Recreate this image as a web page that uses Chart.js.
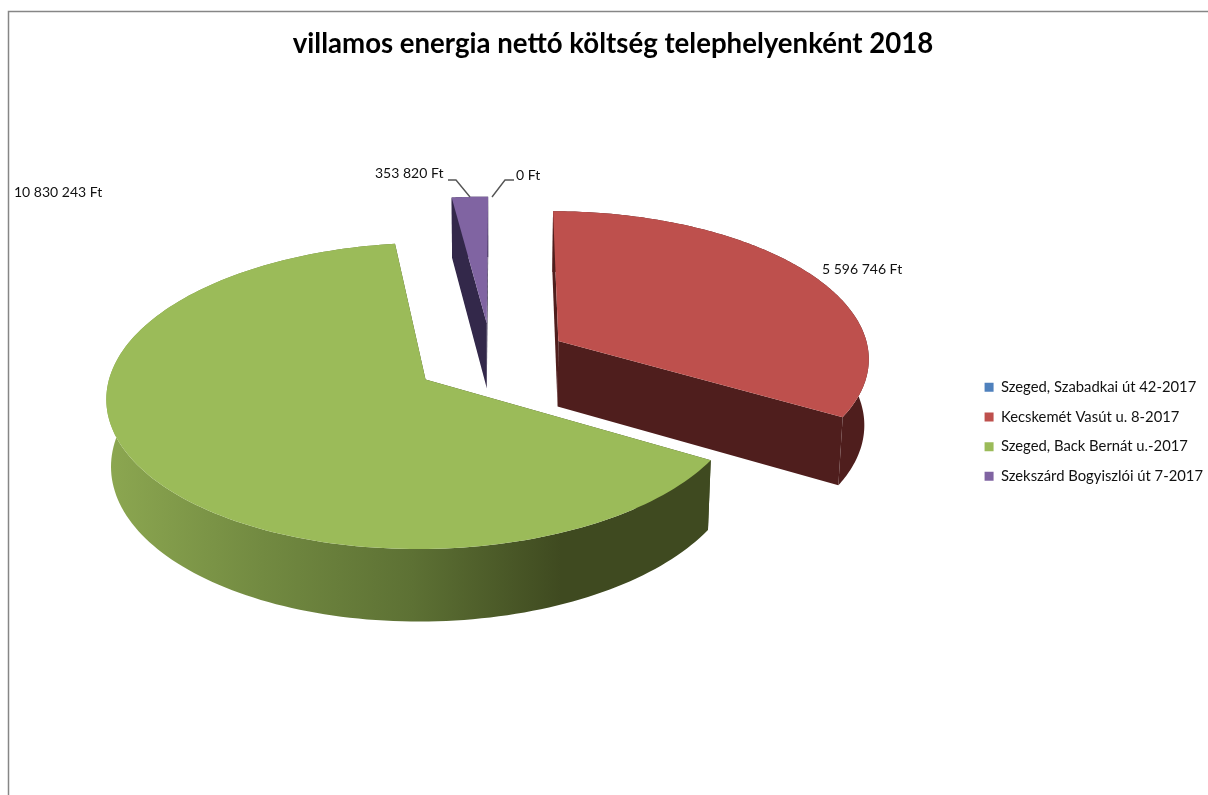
<!DOCTYPE html>
<html lang="hu"><head><meta charset="utf-8">
<style>html,body{margin:0;padding:0;background:#fff;overflow:hidden}canvas{display:block}</style>
<script src="https://cdn.jsdelivr.net/npm/chart.js@4/dist/chart.umd.min.js"></script>
</head><body><canvas id="c" width="1208" height="795"></canvas>
<script>
const chartTitle = 'villamos energia nettó költség telephelyenként 2018';
const categories = ['Szeged, Szabadkai út 42-2017','Kecskemét Vasút u. 8-2017','Szeged, Back Bernát u.-2017','Szekszárd Bogyiszlói út 7-2017'];
const costs = [0, 5596746, 10830243, 353820];
const topColors = ['#4F81BD','#BE504D','#9BBB59','#8064A2'];
const wallColors = ['#2A4365','#4F1E1D','#3F4A20','#33284A'];
const rotationDeg = 0.2;

// 3D view of the exploded pie
const V = {cx:491.5, cy:359, F:312, G:147, H:67, p:0.105, q:0.012, explode:0.25};
const project = (X,Y,Z) => { const w = 1 + V.p*Y + V.q*Z; return [V.cx + V.F*X/w, V.cy + (-V.G*Y + V.H*Z)/w]; };
const fmt = v => String(v).replace(/\B(?=(\d{3})+$)/g,' ') + ' Ft';

const labelSpots = [
  {i:0, x:516, y:175}, {i:1, x:822, y:269}, {i:2, x:14, y:192}, {i:3, x:375, y:173}
];
const leaders = [
  [[448,180],[456,180],[470,197]],
  [[492,197],[505,180],[514,180]]
];

const pie3d = {
  id:'pie3d',
  beforeDraw(chart){
    const c = chart.ctx; c.save(); c.fillStyle='#fff'; c.fillRect(0,0,chart.width,chart.height);
    c.strokeStyle='#868686'; c.lineWidth=1.5; c.beginPath(); c.moveTo(8.5,795); c.lineTo(8.5,11.5); c.lineTo(1208,11.5); c.stroke(); c.restore();
  },
  beforeDatasetDraw(chart){
    const c = chart.ctx, arcs = chart.getDatasetMeta(0).data;
    const order = [3,1,2];
    order.forEach(i => {
      const a = arcs[i]; if (a.endAngle - a.startAngle < 1e-6) return;
      const m = (a.startAngle + a.endAngle)/2, ox = V.explode*Math.cos(m), oy = -V.explode*Math.sin(m);
      const N = 160, rim = z => { const pts=[]; for(let k=0;k<=N;k++){const t=a.startAngle+(a.endAngle-a.startAngle)*k/N; pts.push(project(ox+Math.cos(t), oy-Math.sin(t), z));} return pts; };
      const top = rim(0), bot = rim(1), a0 = project(ox,oy,0), a1 = project(ox,oy,1);
      const poly = pts => { c.beginPath(); pts.forEach((p,k)=> k?c.lineTo(p[0],p[1]):c.moveTo(p[0],p[1])); c.closePath(); };
      c.fillStyle = wallColors[i];
      poly([a0, top[0], bot[0], a1]); c.fill();
      poly([a0, top[N], bot[N], a1]); c.fill();
      let side = wallColors[i];
      if (i===2){ const g=c.createLinearGradient(113,0,711,0);
        g.addColorStop(0,'#8BA650'); g.addColorStop(.25,'#728A41'); g.addColorStop(.5,'#5D7134'); g.addColorStop(.75,'#3F4A20'); g.addColorStop(1,'#3F4A20'); side=g; }
      c.fillStyle = side; poly(top.concat(bot.slice().reverse())); c.fill();
      c.fillStyle = a.options.backgroundColor; poly([a0].concat(top)); c.fill();
    });
    return false;
  },
  afterDraw(chart){
    const c = chart.ctx; c.save();
    c.strokeStyle='#555'; c.lineWidth=1.4;
    leaders.forEach(l=>{c.beginPath(); l.forEach((p,k)=>k?c.lineTo(p[0],p[1]):c.moveTo(p[0],p[1])); c.stroke();});
    c.fillStyle='#111'; c.font='14px Lato'; c.textBaseline='middle'; c.textAlign='left';
    labelSpots.forEach(s=>c.fillText(fmt(costs[s.i]),s.x,s.y));
    c.restore();
  }
};

new Chart(document.getElementById('c'),{
  type:'pie',
  data:{labels:categories,datasets:[{data:costs,backgroundColor:topColors,borderWidth:0}]},
  plugins:[pie3d],
  options:{
    responsive:false,animation:false,rotation:rotationDeg,
    layout:{padding:{left:13,right:-5,top:28,bottom:0}},
    plugins:{
      tooltip:{enabled:false},
      title:{display:true,text:chartTitle,color:'#000',font:{family:'Lato',size:27.6,weight:'bold'},padding:{top:0,bottom:7.5}},
      legend:{position:'right',align:'center',fullSize:false,labels:{boxWidth:9,boxHeight:9,padding:14.9,color:'#111',font:{family:'Lato',size:14.8}}}
    }
  }
});
</script></body></html>
